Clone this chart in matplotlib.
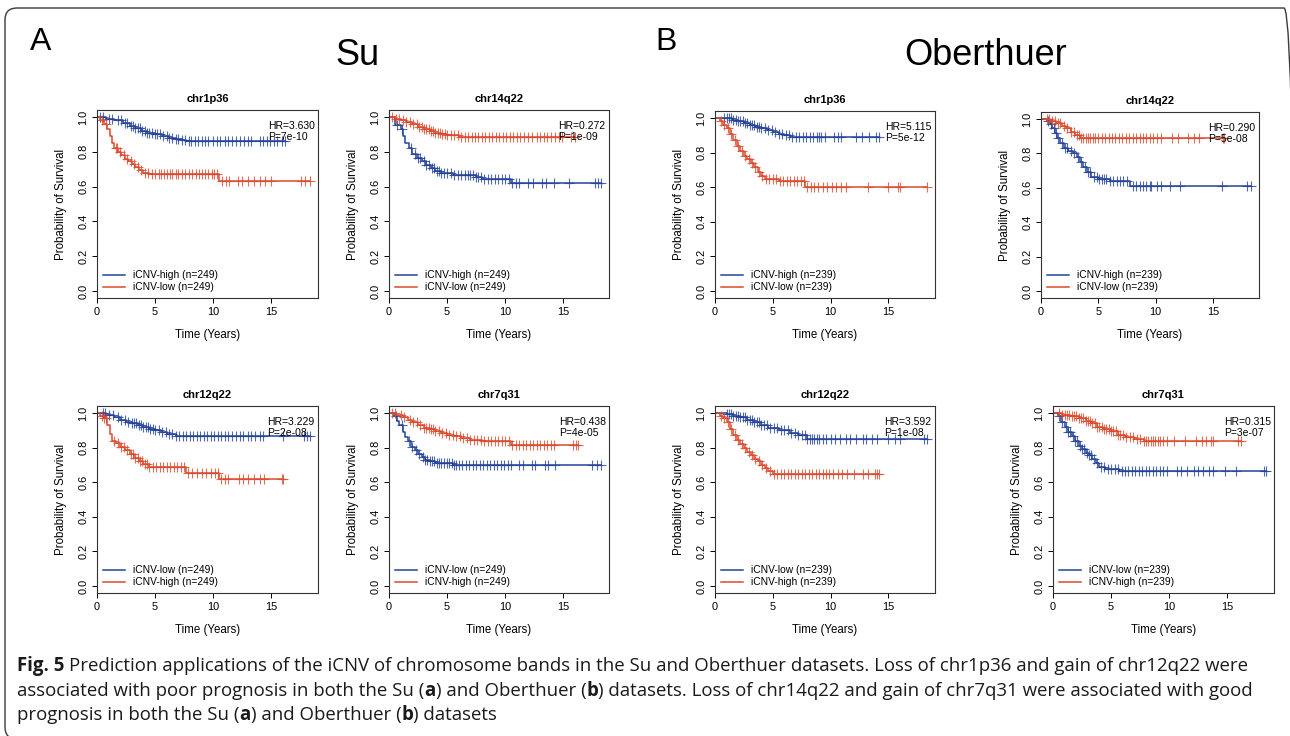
import numpy as np
import matplotlib
matplotlib.use("Agg")
import matplotlib.pyplot as plt
from matplotlib.patches import FancyBboxPatch

# ---------------- data ----------------
# Su chr1p36
su_1p36_high_t = [0, 0.8, 1.5, 2.2, 2.8, 3.3, 3.8, 4.3, 5.0, 5.6, 6.2, 6.8, 7.3, 7.7]
su_1p36_high_s = [1.0, 0.99, 0.98, 0.965, 0.95, 0.935, 0.92, 0.91, 0.90, 0.89, 0.88, 0.875, 0.865, 0.86]
su_1p36_high_c = [0.3, 0.5, 1.0, 1.3, 1.8, 2.1, 2.4, 2.6, 2.9, 3.1, 3.3, 3.5, 3.7, 3.9, 4.1, 4.3, 4.5, 4.7,
                  5.0, 5.2, 5.4, 5.7, 6.0, 6.2, 6.5, 6.8, 7.0, 7.3, 7.6, 7.9, 8.1, 8.4, 8.7, 9.0, 9.3, 9.6,
                  10.0, 10.3, 10.6, 11.0, 11.3, 11.6, 12.0, 12.3, 12.7, 13.0, 13.3, 14.0, 14.3, 14.6,
                  14.9, 15.2, 15.5, 15.9, 16.2]
su_1p36_low_t = [0, 0.3, 0.6, 0.9, 1.1, 1.3, 1.5, 1.8, 2.1, 2.4, 2.7, 3.0, 3.3, 3.6, 4.0, 4.5, 10.5]
su_1p36_low_s = [1.0, 0.98, 0.96, 0.93, 0.89, 0.85, 0.82, 0.80, 0.78, 0.76, 0.745, 0.73, 0.71, 0.695,
                 0.68, 0.672, 0.635]
su_1p36_low_c = [0.4, 0.8, 1.6, 1.7, 2.0, 2.3, 2.6, 2.9, 3.2, 3.5, 3.8, 4.1, 4.4, 4.7, 5.0, 5.3, 5.5, 5.8,
                 6.0, 6.3, 6.5, 6.8, 7.0, 7.3, 7.6, 7.9, 8.2, 8.5, 8.8, 9.0, 9.3, 9.6, 9.9, 10.1, 10.3,
                 10.8, 11.1, 11.4, 12.1, 12.5, 13.0, 13.5, 14.0, 14.5, 15.0, 17.6, 17.9, 18.3]

# Su chr14q22
su_14q22_high_t = [0, 0.5, 1.0, 1.2, 1.4, 1.7, 2.0, 2.4, 2.8, 3.2, 3.6, 4.0, 4.5, 5.5, 7.5, 8.0, 10.5]
su_14q22_high_s = [1.0, 0.955, 0.93, 0.89, 0.85, 0.82, 0.79, 0.765, 0.745, 0.725, 0.705, 0.69, 0.68,
                   0.668, 0.655, 0.642, 0.62]
su_14q22_high_c = [0.7, 1.1, 1.9, 2.2, 2.5, 2.7, 3.0, 3.2, 3.4, 3.7, 3.9, 4.1, 4.3, 4.5, 4.7, 5.0, 5.3,
                   5.6, 5.9, 6.2, 6.5, 6.8, 7.0, 7.2, 7.5, 7.7, 7.9, 8.2, 8.5, 8.8, 9.1, 9.4, 9.7, 10.0,
                   10.3, 10.6, 10.9, 11.2, 12.0, 12.4, 13.2, 13.5, 14.2, 15.5, 17.7, 18.0, 18.2]
su_14q22_low_t = [0, 0.5, 1.0, 1.5, 2.0, 2.5, 3.0, 3.5, 4.0, 4.5, 5.0, 6.0]
su_14q22_low_s = [1.0, 0.99, 0.98, 0.97, 0.96, 0.945, 0.93, 0.92, 0.91, 0.90, 0.895, 0.885]
su_14q22_low_c = [0.3, 0.6, 0.9, 1.2, 1.5, 1.8, 2.1, 2.4, 2.6, 2.8, 3.0, 3.2, 3.4, 3.6, 3.8, 4.0, 4.2,
                  4.4, 4.6, 4.8, 5.0, 5.3, 5.6, 5.9, 6.2, 6.5, 6.8, 7.1, 7.4, 7.7, 8.0, 8.3, 8.6, 8.9,
                  9.2, 9.5, 9.8, 10.1, 10.4, 10.7, 11.0, 11.3, 11.6, 12.0, 12.3, 12.7, 13.0, 13.3,
                  13.6, 13.9, 14.3, 14.6, 14.9, 15.7, 16.0]

# Oberthuer chr1p36
ob_1p36_high_t = [0, 1.5, 2.0, 2.5, 3.0, 3.5, 4.0, 4.5, 5.0, 5.5, 6.0, 6.5]
ob_1p36_high_s = [1.0, 0.99, 0.98, 0.97, 0.96, 0.95, 0.94, 0.93, 0.92, 0.91, 0.90, 0.89]
ob_1p36_high_c = [0.8, 1.0, 1.2, 1.4, 1.6, 1.8, 2.0, 2.2, 2.4, 2.6, 2.8, 3.0, 3.2, 3.4, 3.6, 3.8, 4.0,
                  4.3, 4.6, 4.9, 5.2, 5.5, 5.8, 6.1, 6.4, 6.7, 7.0, 7.3, 7.6, 7.9, 8.2, 8.5, 8.8, 9.0,
                  9.2, 9.5, 10.3, 10.6, 10.9, 12.2, 12.7, 13.3, 13.9, 14.2]
ob_1p36_low_t = [0, 0.4, 0.7, 1.0, 1.3, 1.6, 1.9, 2.2, 2.5, 2.8, 3.1, 3.4, 3.7, 4.0, 4.3, 5.5, 7.8]
ob_1p36_low_s = [1.0, 0.98, 0.96, 0.94, 0.91, 0.875, 0.84, 0.81, 0.78, 0.76, 0.74, 0.715, 0.69, 0.665,
                 0.645, 0.635, 0.60]
ob_1p36_low_c = [0.5, 0.8, 1.1, 1.4, 1.7, 2.0, 2.3, 2.6, 2.9, 3.2, 3.5, 3.8, 4.1, 4.4, 4.7, 5.0, 5.3,
                 5.6, 5.9, 6.2, 6.5, 6.8, 7.1, 7.4, 7.7, 8.0, 8.3, 8.6, 8.9, 9.3, 9.7, 10.1, 10.5,
                 10.9, 11.3, 13.2, 15.0, 15.8, 16.0, 18.3]

# Oberthuer chr14q22
ob_14q22_high_t = [0, 0.5, 0.8, 1.0, 1.2, 1.4, 1.7, 2.0, 2.4, 2.8, 3.1, 3.4, 3.7, 4.0, 4.4, 5.0, 6.0, 7.8]
ob_14q22_high_s = [1.0, 0.99, 0.97, 0.95, 0.92, 0.89, 0.86, 0.83, 0.815, 0.80, 0.78, 0.75, 0.72, 0.69,
                   0.665, 0.65, 0.64, 0.61]
ob_14q22_high_c = [0.6, 0.9, 1.1, 1.3, 1.5, 1.8, 2.1, 2.3, 2.6, 2.9, 3.2, 3.5, 3.8, 4.1, 4.3, 4.6, 4.9,
                   5.1, 5.3, 5.5, 5.7, 6.0, 6.3, 6.6, 6.9, 7.2, 7.5, 8.0, 8.3, 8.6, 8.9, 9.2, 9.5, 9.6,
                   10.1, 10.5, 11.3, 12.1, 15.8, 18.0, 18.3]
ob_14q22_low_t = [0, 0.8, 1.3, 1.8, 2.2, 2.6, 3.0, 3.4]
ob_14q22_low_s = [1.0, 0.99, 0.975, 0.96, 0.945, 0.925, 0.905, 0.89]
ob_14q22_low_c = [0.5, 0.7, 1.0, 1.2, 1.5, 1.7, 2.0, 2.3, 2.6, 2.9, 3.1, 3.3, 3.5, 3.7, 3.9, 4.1, 4.3,
                  4.5, 4.7, 5.0, 5.3, 5.6, 5.9, 6.2, 6.5, 6.8, 7.1, 7.4, 7.7, 8.0, 8.3, 8.6, 8.9, 9.2,
                  9.5, 9.8, 10.1, 10.5, 11.4, 12.0, 12.8, 13.4, 13.8, 15.9, 16.0]

# Su chr12q22
su_12q22_low_t = [0, 0.8, 1.5, 2.0, 2.5, 3.0, 3.5, 4.0, 4.5, 5.0, 5.5, 6.0, 6.8]
su_12q22_low_s = [1.0, 0.99, 0.975, 0.96, 0.95, 0.94, 0.93, 0.92, 0.91, 0.90, 0.89, 0.88, 0.865]
su_12q22_low_c = [0.5, 0.7, 1.0, 1.4, 1.8, 2.1, 2.4, 2.7, 3.0, 3.2, 3.4, 3.6, 3.8, 4.0, 4.2, 4.4, 4.6,
                  4.8, 5.0, 5.3, 5.6, 5.9, 6.2, 6.5, 6.8, 7.1, 7.4, 7.7, 8.0, 8.3, 8.6, 8.9, 9.2, 9.5,
                  9.8, 10.1, 10.4, 10.7, 11.0, 11.3, 11.6, 12.0, 12.3, 12.6, 13.0, 13.3, 13.6, 14.0,
                  14.3, 16.0, 17.8, 18.1, 18.3]
su_12q22_high_t = [0, 0.3, 0.6, 0.9, 1.1, 1.3, 1.6, 2.0, 2.4, 2.8, 3.2, 3.6, 4.0, 4.5, 7.7, 10.5]
su_12q22_high_s = [1.0, 0.985, 0.97, 0.93, 0.88, 0.84, 0.825, 0.805, 0.785, 0.76, 0.74, 0.72, 0.705,
                   0.69, 0.655, 0.62]
su_12q22_high_c = [0.4, 0.6, 0.8, 1.5, 1.8, 2.1, 2.3, 2.6, 2.9, 3.1, 3.3, 3.5, 3.7, 3.9, 4.1, 4.3, 4.5,
                   4.8, 5.1, 5.4, 5.7, 6.0, 6.3, 6.6, 6.9, 7.2, 7.5, 7.8, 8.2, 8.6, 9.0, 9.4, 9.8,
                   10.2, 10.4, 10.7, 11.0, 11.3, 12.2, 12.6, 13.0, 13.5, 14.0, 14.4, 15.9, 16.0]

# Su chr7q31
su_7q31_low_t = [0, 0.4, 0.7, 0.9, 1.2, 1.4, 1.6, 1.9, 2.2, 2.5, 2.8, 3.1, 3.5, 4.0, 5.5]
su_7q31_low_s = [1.0, 0.985, 0.955, 0.93, 0.89, 0.86, 0.835, 0.805, 0.785, 0.765, 0.745, 0.73, 0.72,
                 0.71, 0.70]
su_7q31_low_c = [0.6, 1.1, 1.7, 2.0, 2.3, 2.6, 2.9, 3.1, 3.3, 3.5, 3.7, 3.9, 4.1, 4.3, 4.5, 4.7, 5.0,
                 5.2, 5.4, 5.6, 5.8, 6.0, 6.3, 6.6, 6.9, 7.2, 7.5, 7.8, 8.1, 8.4, 8.7, 9.0, 9.3, 9.6,
                 9.9, 10.2, 10.5, 11.2, 11.5, 12.3, 12.6, 13.4, 13.7, 14.3, 17.5, 17.9, 18.2]
su_7q31_high_t = [0, 0.6, 1.2, 1.6, 2.0, 2.5, 3.0, 3.5, 4.0, 4.5, 5.0, 5.6, 6.2, 7.0, 8.0, 10.5]
su_7q31_high_s = [1.0, 0.99, 0.975, 0.96, 0.945, 0.93, 0.915, 0.905, 0.895, 0.885, 0.875, 0.865, 0.855,
                  0.845, 0.835, 0.815]
su_7q31_high_c = [0.3, 0.5, 1.0, 1.3, 1.8, 2.1, 2.4, 2.7, 3.0, 3.2, 3.4, 3.6, 3.8, 4.0, 4.3, 4.6, 4.9,
                  5.2, 5.5, 5.8, 6.1, 6.4, 6.7, 7.0, 7.3, 7.6, 7.9, 8.2, 8.5, 8.8, 9.1, 9.4, 9.7,
                  10.0, 10.3, 10.6, 10.9, 11.2, 11.5, 11.8, 12.1, 12.4, 12.7, 13.0, 13.3, 13.6, 13.9,
                  14.2, 15.8, 16.1, 16.3]

# Oberthuer chr12q22
ob_12q22_low_t = [0, 1.0, 1.6, 2.2, 2.8, 3.4, 4.0, 4.6, 5.5, 6.5, 7.2, 8.0]
ob_12q22_low_s = [1.0, 0.995, 0.985, 0.975, 0.96, 0.945, 0.93, 0.915, 0.90, 0.885, 0.87, 0.852]
ob_12q22_low_c = [1.0, 1.2, 1.4, 1.6, 1.8, 2.0, 2.2, 2.4, 2.6, 2.8, 3.0, 3.2, 3.4, 3.6, 3.8, 4.0, 4.2,
                  4.5, 4.8, 5.1, 5.4, 5.7, 6.0, 6.3, 6.6, 6.9, 7.2, 7.5, 7.8, 8.0, 8.2, 8.4, 8.6, 8.8,
                  9.0, 9.3, 9.6, 10.0, 10.4, 10.8, 11.3, 11.7, 12.2, 12.8, 13.1, 13.6, 14.0, 15.0,
                  15.6, 16.0, 18.1, 18.3]
ob_12q22_high_t = [0, 0.4, 0.7, 1.0, 1.3, 1.6, 1.9, 2.2, 2.5, 2.8, 3.1, 3.4, 3.7, 4.0, 4.3, 4.6, 5.0]
ob_12q22_high_s = [1.0, 0.985, 0.97, 0.95, 0.91, 0.875, 0.845, 0.82, 0.795, 0.775, 0.755, 0.735, 0.72,
                   0.70, 0.68, 0.665, 0.645]
ob_12q22_high_c = [0.5, 0.8, 1.1, 1.4, 1.7, 2.0, 2.3, 2.6, 2.9, 3.2, 3.5, 3.8, 4.1, 4.4, 4.8, 5.1, 5.4,
                   5.7, 6.0, 6.3, 6.6, 6.9, 7.2, 7.5, 7.8, 8.1, 8.4, 8.7, 9.0, 9.3, 9.6, 9.9, 10.2,
                   10.6, 11.0, 11.4, 12.0, 12.8, 13.2, 13.8, 14.0, 14.2]

# Oberthuer chr7q31
ob_7q31_low_t = [0, 0.4, 0.7, 1.0, 1.3, 1.6, 1.9, 2.2, 2.5, 2.8, 3.1, 3.4, 3.7, 4.0, 4.5, 5.7]
ob_7q31_low_s = [1.0, 0.985, 0.95, 0.92, 0.89, 0.865, 0.835, 0.81, 0.79, 0.77, 0.755, 0.735, 0.71,
                 0.69, 0.675, 0.665]
ob_7q31_low_c = [0.5, 0.8, 1.1, 1.3, 1.5, 1.7, 1.9, 2.1, 2.3, 2.5, 2.7, 2.9, 3.1, 3.3, 3.5, 3.8, 4.1,
                 4.4, 4.7, 5.0, 5.3, 5.6, 5.9, 6.2, 6.5, 6.8, 7.1, 7.4, 7.7, 8.0, 8.3, 8.6, 8.9, 9.2,
                 9.5, 9.8, 10.7, 11.0, 11.5, 12.1, 12.5, 12.9, 13.4, 13.8, 14.8, 15.8, 18.2, 18.3]
ob_7q31_high_t = [0, 0.8, 1.5, 2.2, 2.8, 3.3, 3.8, 4.3, 5.0, 5.6, 6.2, 7.0, 7.8]
ob_7q31_high_s = [1.0, 0.99, 0.98, 0.97, 0.955, 0.94, 0.92, 0.905, 0.893, 0.875, 0.862, 0.85, 0.838]
ob_7q31_high_c = [0.5, 0.8, 1.0, 1.2, 1.4, 1.6, 1.8, 2.0, 2.2, 2.4, 2.6, 2.8, 3.0, 3.2, 3.4, 3.6, 3.8,
                  4.0, 4.2, 4.4, 4.6, 4.8, 5.0, 5.2, 5.4, 5.6, 5.8, 6.0, 6.3, 6.6, 6.9, 7.2, 7.5, 7.8,
                  8.0, 8.2, 8.4, 8.6, 8.8, 9.0, 9.2, 9.5, 9.8, 10.4, 11.4, 12.3, 12.8, 13.2, 13.6,
                  13.8, 15.9, 16.2]

titles = ["chr1p36", "chr14q22", "chr1p36", "chr14q22",
          "chr12q22", "chr7q31", "chr12q22", "chr7q31"]
hr_values = ["3.630", "0.272", "5.115", "0.290", "3.229", "0.438", "3.592", "0.315"]
p_values = ["7e-10", "1e-09", "5e-12", "5e-08", "2e-08", "4e-05", "1e-08", "3e-07"]
blue_labels = ["iCNV-high (n=249)", "iCNV-high (n=249)", "iCNV-high (n=239)", "iCNV-high (n=239)",
               "iCNV-low (n=249)", "iCNV-low (n=249)", "iCNV-low (n=239)", "iCNV-low (n=239)"]
red_labels = ["iCNV-low (n=249)", "iCNV-low (n=249)", "iCNV-low (n=239)", "iCNV-low (n=239)",
              "iCNV-high (n=249)", "iCNV-high (n=249)", "iCNV-high (n=239)", "iCNV-high (n=239)"]
y_ticks = [0.0, 0.2, 0.4, 0.6, 0.8, 1.0]
y_tick_labels = ["0.0", "0.2", "0.4", "0.6", "0.8", "1.0"]
x_ticks = [0, 5, 10, 15]
x_tick_labels = ["0", "5", "10", "15"]

blue_curves = [
    (su_1p36_high_t, su_1p36_high_s, su_1p36_high_c),
    (su_14q22_high_t, su_14q22_high_s, su_14q22_high_c),
    (ob_1p36_high_t, ob_1p36_high_s, ob_1p36_high_c),
    (ob_14q22_high_t, ob_14q22_high_s, ob_14q22_high_c),
    (su_12q22_low_t, su_12q22_low_s, su_12q22_low_c),
    (su_7q31_low_t, su_7q31_low_s, su_7q31_low_c),
    (ob_12q22_low_t, ob_12q22_low_s, ob_12q22_low_c),
    (ob_7q31_low_t, ob_7q31_low_s, ob_7q31_low_c),
]
red_curves = [
    (su_1p36_low_t, su_1p36_low_s, su_1p36_low_c),
    (su_14q22_low_t, su_14q22_low_s, su_14q22_low_c),
    (ob_1p36_low_t, ob_1p36_low_s, ob_1p36_low_c),
    (ob_14q22_low_t, ob_14q22_low_s, ob_14q22_low_c),
    (su_12q22_high_t, su_12q22_high_s, su_12q22_high_c),
    (su_7q31_high_t, su_7q31_high_s, su_7q31_high_c),
    (ob_12q22_high_t, ob_12q22_high_s, ob_12q22_high_c),
    (ob_7q31_high_t, ob_7q31_high_s, ob_7q31_high_c),
]

# ---------------- layout ----------------
W, H = 1290, 736
BLUE = "#25439A"
RED = "#DC4A2D"
plt.rcParams["font.family"] = ["Liberation Sans", "DejaVu Sans"]

fig = plt.figure(figsize=(W / 100, H / 100), dpi=100)

# axes boxes in pixels: (left, top, right, bottom)
boxes = [(97, 110, 318, 298), (389, 110, 609, 298), (715, 111, 935, 298), (1041, 112, 1259, 298),
         (97, 406, 318, 593), (389, 406, 609, 593), (715, 406, 935, 593), (1053, 406, 1274, 593)]


def km_draw(ax, t, s, c, color, label):
    end = max(max(t), max(c))
    xs = list(t) + [end]
    ys = list(s) + [s[-1]]
    ax.step(xs, ys, where="post", color=color, lw=1.1, label=label)
    t_arr = np.asarray(t)
    s_arr = np.asarray(s)
    idx = np.searchsorted(t_arr, np.asarray(c), side="right") - 1
    ax.plot(c, s_arr[idx], ls="none", marker="+", ms=7, mew=0.8, color=color, alpha=0.8)
    return end


for i in range(8):
    l, t_, r, b = boxes[i]
    ax = fig.add_axes([l / W, 1 - b / H, (r - l) / W, (b - t_) / H])
    e1 = km_draw(ax, *blue_curves[i], BLUE, blue_labels[i])
    e2 = km_draw(ax, *red_curves[i], RED, red_labels[i])
    xmax = max(e1, e2) * 1.04
    ax.set_xlim(0, xmax)
    ax.set_ylim(-0.04, 1.04)
    ax.set_xticks(x_ticks)
    ax.set_xticklabels(x_tick_labels)
    ax.set_yticks(y_ticks)
    ax.set_yticklabels(y_tick_labels, rotation=90, va="center")
    ax.tick_params(axis="both", labelsize=7.9, length=3.8, width=0.7, direction="out", pad=2.5)
    for sp in ax.spines.values():
        sp.set_linewidth(0.8)
        sp.set_color("#333333")
    ax.set_title(titles[i], fontsize=8, fontweight="bold", pad=5.5)
    ax.set_xlabel("Time (Years)", fontsize=8.3, labelpad=9)
    ax.set_ylabel("Probability of Survival", fontsize=8.3, labelpad=8)
    ax.text(0.985, 0.94, "HR=" + hr_values[i] + "\nP=" + p_values[i], transform=ax.transAxes,
            ha="right", va="top", multialignment="left", fontsize=7.5, linespacing=1.05)
    ax.legend(loc="lower left", bbox_to_anchor=(0.02, 0.02), frameon=False, fontsize=7.4,
              handlelength=2.1, handletextpad=0.8, labelspacing=0.2, borderaxespad=0.0,
              borderpad=0.2)

# panel letters and headings
fig.text(30 / W, 1 - 50 / H, "A", fontsize=23, ha="left", va="baseline")
fig.text(655 / W, 1 - 50 / H, "B", fontsize=23, ha="left", va="baseline")
fig.text(335 / W, 1 - 65 / H, "Su", fontsize=26, ha="left", va="baseline")
fig.text(904 / W, 1 - 65 / H, "Oberthuer", fontsize=26, ha="left", va="baseline")

# rounded frame (right side runs off the image)
frame = FancyBboxPatch((5 / 100, -0.03), (1296 - 5) / 100, (739 - 8) / 100,
                       boxstyle="round,pad=0,rounding_size=0.12", transform=fig.dpi_scale_trans,
                       fill=False, edgecolor="#3a3a3a", lw=1.0)
fig.add_artist(frame)

# caption
cap_family = ["Open Sans", "DejaVu Sans"]
renderer = fig.canvas.get_renderer()

line1 = [("Fig. 5", "bold"),
         ("Prediction applications of the iCNV of chromosome bands in the Su and Oberthuer datasets. "
          "Loss of chr1p36 and gain of chr12q22 were", "normal")]
line2 = [("associated with poor prognosis in both the Su (", "normal"), ("a", "bold"),
         (") and Oberthuer (", "normal"), ("b", "bold"),
         (") datasets. Loss of chr14q22 and gain of chr7q31 were associated with good", "normal")]
line3 = [("prognosis in both the Su (", "normal"), ("a", "bold"), (") and Oberthuer (", "normal"),
         ("b", "bold"), (") datasets", "normal")]


def measure(txt, size, weight):
    tt = fig.text(0, 0, txt, fontsize=size, fontweight=weight, family=cap_family)
    w = tt.get_window_extent(renderer).width
    tt.remove()
    return w


base = 13.0
w_line1 = measure(line1[0][0], base, "bold") + measure("x x", base, "normal") - measure("xx", base, "normal") \
    + measure(line1[1][0], base, "normal")
cap_size = min(14.5, base * (1245 - 17) / w_line1)


def draw_line(segs, x0, ybase, gap_after_first=False):
    x = x0
    sp = measure("x x", cap_size, "normal") - measure("xx", cap_size, "normal")
    for k, (txt, weight) in enumerate(segs):
        tt = fig.text(x / W, 1 - ybase / H, txt, fontsize=cap_size, fontweight=weight,
                      family=cap_family, ha="left", va="baseline", color="#1a1a1a")
        x += tt.get_window_extent(renderer).width
        if gap_after_first and k == 0:
            x += sp


draw_line(line1, 17, 671, gap_after_first=True)
draw_line(line2, 17, 696)
draw_line(line3, 17, 720)

fig.savefig("out.png", dpi=100)
